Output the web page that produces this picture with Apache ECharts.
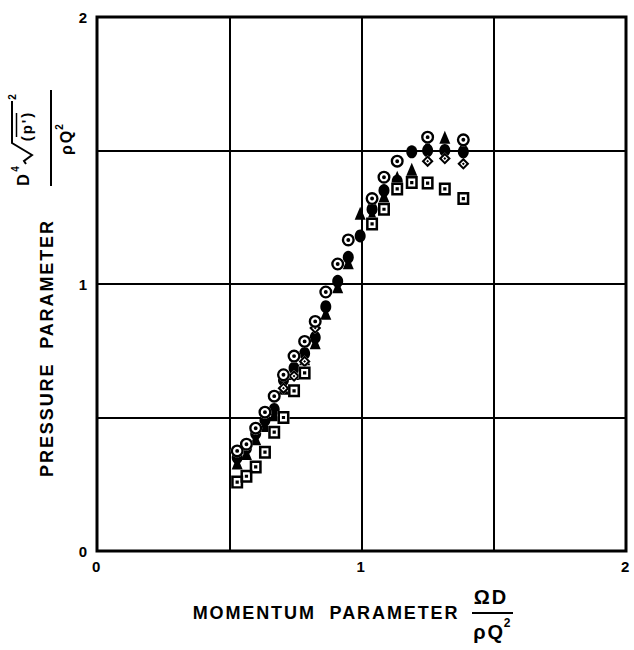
<!DOCTYPE html>
<html><head><meta charset="utf-8">
<script src="https://cdn.jsdelivr.net/npm/echarts@6/dist/echarts.min.js"></script>
<style>
html,body{margin:0;padding:0;background:#fff;}
#chart{width:634px;height:650px;}
#chart text{letter-spacing:1.9px;}
</style></head><body><div id="chart"></div>
<script>
// ---- tick labels ----
const xTickLabels = ['0', '1', '2'];
const yTickLabels = ['0', '1', '2'];
// ---- axis titles ----
const xTitle = 'MOMENTUM  PARAMETER';
const yTitle = 'PRESSURE  PARAMETER';
// ---- series: [momentum parameter, pressure parameter] ----
const circleDot = [[0.53,0.375],[0.565,0.40],[0.60,0.46],[0.635,0.52],[0.67,0.58],[0.705,0.66],[0.745,0.73],[0.785,0.785],[0.825,0.86],[0.865,0.97],[0.91,1.075],[0.95,1.165],[1.04,1.32],[1.085,1.40],[1.135,1.46],[1.25,1.55],[1.385,1.54]];
const filled = [[0.53,0.35],[0.565,0.385],[0.60,0.44],[0.635,0.49],[0.67,0.53],[0.705,0.64],[0.745,0.685],[0.785,0.74],[0.825,0.80],[0.865,0.915],[0.91,1.01],[0.95,1.10],[0.995,1.18],[1.04,1.28],[1.085,1.35],[1.135,1.385],[1.19,1.495],[1.25,1.50],[1.315,1.50],[1.385,1.495]];
const triangles = [[0.53,0.33],[0.565,0.365],[0.60,0.42],[0.635,0.47],[0.67,0.51],[0.705,0.61],[0.745,0.665],[0.785,0.72],[0.825,0.78],[0.865,0.89],[0.91,0.99],[0.95,1.08],[0.995,1.265],[1.04,1.26],[1.085,1.33],[1.135,1.40],[1.19,1.43],[1.25,1.52],[1.315,1.55],[1.385,1.52]];
const diamondDot = [[0.705,0.61],[0.745,0.655],[0.785,0.71],[0.825,0.835],[1.25,1.46],[1.315,1.47],[1.385,1.45]];
const squareDot = [[0.53,0.258],[0.565,0.28],[0.60,0.315],[0.635,0.37],[0.67,0.445],[0.705,0.50],[0.745,0.60],[0.785,0.667],[1.04,1.225],[1.085,1.28],[1.135,1.356],[1.19,1.38],[1.25,1.378],[1.315,1.356],[1.385,1.32]];

const FONT = '"Liberation Sans", Arial, Helvetica, sans-serif';
const CIRCLE_DOT = 'path://M10,0A10,10,0,1,1,10,20A10,10,0,1,1,10,0Z M10,3.6A6.4,6.4,0,1,0,10,16.4A6.4,6.4,0,1,0,10,3.6Z M10,7A3,3,0,1,1,10,13A3,3,0,1,1,10,7Z';
const SQUARE_DOT = 'path://M0,0H20V22H0Z M4.2,4.2V17.8H15.8V4.2Z M7.3,8.3H12.7V13.7H7.3Z';
const DIAMOND_DOT = 'path://M10,0L20,10L10,20L0,10Z M10,4.8L4.8,10L10,15.2L15.2,10Z M10,7.6L12.4,10L10,12.4L7.6,10Z';

function sc(data, symbol, size, color, z) {
  return { type: 'scatter', data: data, symbol: symbol, symbolSize: size, z: z,
    itemStyle: { color: color, opacity: 1 }, silent: true, animation: false };
}

function txt(x, y, text, size, extra) {
  return Object.assign({ type: 'text', x: x, y: y, style: { text: text, font: 'bold ' + size + 'px ' + FONT, fill: '#000',
    align: 'center', verticalAlign: 'middle', textAlign: 'center', textVerticalAlign: 'middle' } }, extra || {});
}

const chart = echarts.init(document.getElementById('chart'), null, { renderer: 'svg' });
chart.setOption({
  animation: false,
  backgroundColor: '#fff',
  grid: { left: 97, top: 17, width: 529, height: 534, show: true, borderColor: '#000', borderWidth: 3, backgroundColor: 'transparent' },
  xAxis: {
    type: 'value', min: 0, max: 2, interval: 0.5,
    axisLine: { show: false }, axisTick: { show: false },
    splitLine: { show: true, lineStyle: { color: '#000', width: 2 } },
    axisLabel: { showMinLabel: true, showMaxLabel: true, margin: 8, color: '#000', fontSize: 15, fontWeight: 'bold', fontFamily: FONT,
      formatter: v => (Math.abs(v - Math.round(v)) < 1e-9 ? xTickLabels[Math.round(v)] : '') }
  },
  yAxis: {
    type: 'value', min: 0, max: 2, interval: 0.5,
    axisLine: { show: false }, axisTick: { show: false },
    splitLine: { show: true, lineStyle: { color: '#000', width: 2 } },
    axisLabel: { showMinLabel: true, showMaxLabel: true, margin: 8, color: '#000', fontSize: 15, fontWeight: 'bold', fontFamily: FONT,
      formatter: v => (Math.abs(v - Math.round(v)) < 1e-9 ? yTickLabels[Math.round(v)] : '') }
  },
  series: [
    sc(filled, 'circle', [11, 13], '#000', 2),
    sc(triangles, 'triangle', [11, 13], '#000', 3),
    sc(diamondDot, 'diamond', 12, '#fff', 4),
    sc(diamondDot, DIAMOND_DOT, 12, '#000', 5),
    sc(squareDot, 'rect', [12, 13], '#fff', 6),
    sc(squareDot, SQUARE_DOT, [12, 13], '#000', 7),
    sc(circleDot, 'circle', 13, '#fff', 8),
    sc(circleDot, CIRCLE_DOT, 13, '#000', 9)
  ],
  graphic: { elements: [
    txt(326, 613, xTitle, 18),
    txt(491, 597, 'ΩD', 20),
    { type: 'line', shape: { x1: 472, y1: 613, x2: 513, y2: 613 }, style: { stroke: '#000', lineWidth: 2 } },
    txt(489, 632, 'ρQ', 20),
    txt(508, 623, '2', 12),
    txt(47, 348, yTitle, 18, { rotation: Math.PI / 2 }),
    { type: 'group', x: 51, y: 138, rotation: Math.PI / 2, children: [
      { type: 'line', shape: { x1: -48, y1: 0, x2: 48, y2: 0 }, style: { stroke: '#000', lineWidth: 2 } },
      txt(-41, -28, 'D', 16),
      txt(-30, -36, '4', 10),
      { type: 'polyline', shape: { points: [[-26,-25],[-23,-27],[-17,-19],[-5,-39],[37,-39]] }, style: { stroke: '#000', lineWidth: 2, fill: null } },
      { type: 'line', shape: { x1: 1, y1: -34.5, x2: 25, y2: -34.5 }, style: { stroke: '#000', lineWidth: 1.5 } },
      txt(12, -25, "(p')", 15),
      txt(42, -39, '2', 10),
      txt(-4, 15, 'ρQ', 16),
      txt(12, 8, '2', 10)
    ] }
  ] }
});
</script></body></html>
